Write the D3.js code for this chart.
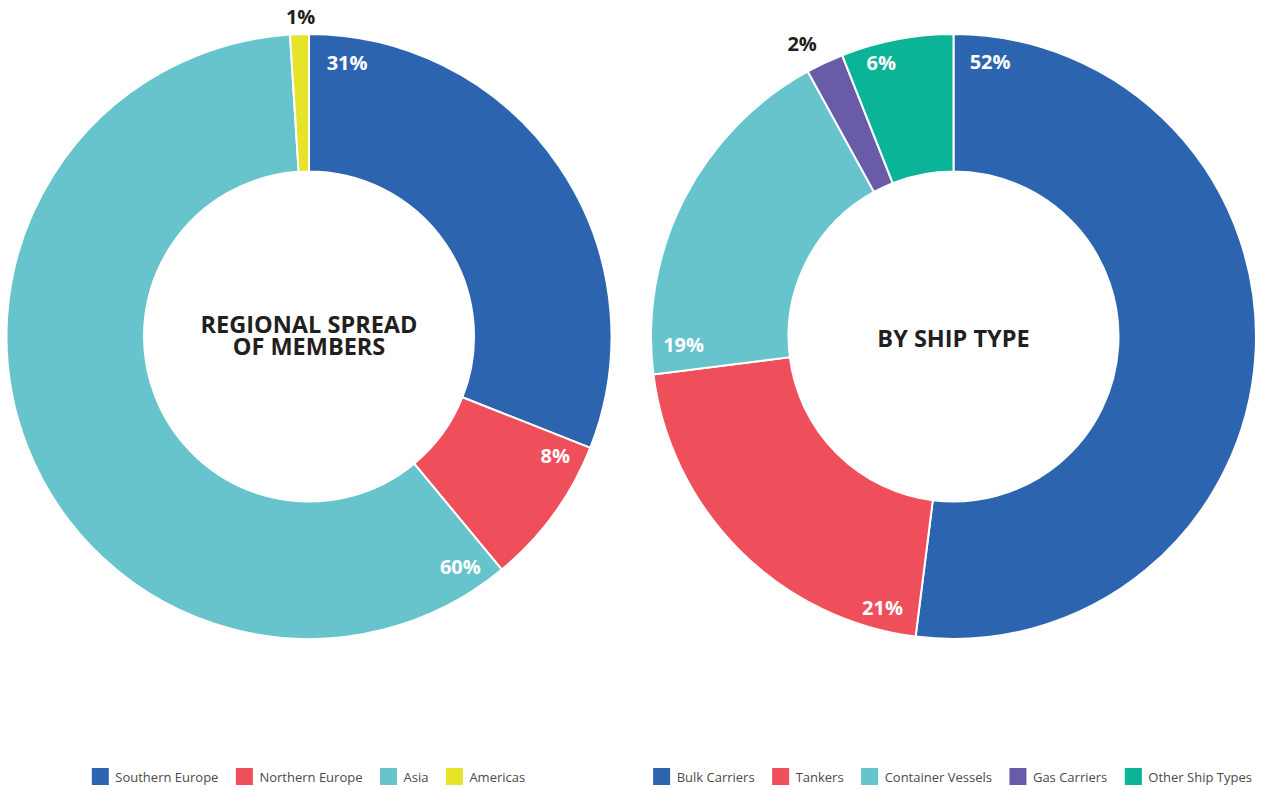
<!DOCTYPE html>
<html>
<head>
<meta charset="utf-8">
<script src="https://cdn.jsdelivr.net/npm/d3@7"></script>
<style>
  html, body { margin: 0; padding: 0; background: #ffffff; }
  svg { display: block; font-family: "Open Sans", "Noto Sans", sans-serif; }
</style>
</head>
<body>
<svg id="chart" width="1269" height="790"></svg>
<script>
// Regional spread of members (percent)
const regionCategories = ["Southern Europe", "Northern Europe", "Asia", "Americas"];
const regionValues = [31, 8, 60, 1];
const regionColors = ["#2c64b0", "#ef4f5a", "#67c4cc", "#e6e42a"];

// Fleet by ship type (percent)
const shipCategories = ["Bulk Carriers", "Tankers", "Container Vessels", "Gas Carriers", "Other Ship Types"];
const shipValues = [52, 21, 19, 2, 6];
const shipColors = ["#2c64b0", "#ef4f5a", "#67c4cc", "#6a5ba8", "#0bb497"];

// Label placement: slices wide enough carry their label inside, near the leading edge;
// thin slices get the label outside, centred on the slice.
const regionLabelLayout = [
  { nudge: 7.9, r: 277 }, { nudge: 4.2, r: 273.5 }, { nudge: 6.3, r: 275.7 }, { outside: true, r: 320, nudge: 0.3 }
];
const shipLabelLayout = [
  { nudge: 7.6, r: 277 }, { nudge: 7.5, r: 280 }, { nudge: 5.6, r: 270 }, { outside: true, r: 330, nudge: -2.1 }, { nudge: 6.8, r: 283 }
];

const svg = d3.select("#chart");
const outerR = 302.5, innerR = 165;
const deg = Math.PI / 180;

function donut(cx, cy, categories, values, colors, layout, titleLines, titleSize, titleBase) {
  const g = svg.append("g").attr("transform", `translate(${cx},${cy})`);
  const pie = d3.pie().sort(null).value(d => d.value);
  const arcs = pie(categories.map((c, i) => ({ name: c, value: values[i], color: colors[i], layout: layout[i] })));
  const arc = d3.arc().innerRadius(innerR).outerRadius(outerR);

  g.selectAll("path.slice")
    .data(arcs)
    .join("path")
    .attr("class", "slice")
    .attr("d", arc)
    .attr("fill", d => d.data.color)
    .attr("stroke", "#ffffff")
    .attr("stroke-width", 2)
    .attr("stroke-linejoin", "miter");

  g.selectAll("text.value")
    .data(arcs)
    .join("text")
    .attr("class", "value")
    .each(function (d) {
      const L = d.data.layout;
      const base = L.outside ? (d.startAngle + d.endAngle) / 2 : d.startAngle;
      const a = base + L.nudge * deg;
      d3.select(this)
        .attr("x", Math.sin(a) * L.r)
        .attr("y", -Math.cos(a) * L.r)
        .attr("fill", L.outside ? "#231f20" : "#ffffff");
    })
    .attr("text-anchor", "middle")
    .attr("dominant-baseline", "central")
    .attr("font-size", 20)
    .attr("font-weight", 700)
    .text(d => d.data.value + "%");

  // centre title, set on alphabetic baselines
  const lineGap = 21.7;
  const t = g.append("text")
    .attr("text-anchor", "middle")
    .attr("font-size", titleSize)
    .attr("font-weight", 700)
    .attr("fill", "#231f20");
  titleLines.forEach((line, i) => {
    t.append("tspan")
      .attr("x", 0)
      .attr("y", (i - (titleLines.length - 1) / 2) * lineGap + titleBase)
      .text(line);
  });
}

function legend(cx, y, categories, colors) {
  const g = svg.append("g");
  const sw = 17, gapText = 6.5, gapItem = 17.5;
  const items = g.selectAll("g.item")
    .data(categories.map((c, i) => ({ name: c, color: colors[i] })))
    .join("g")
    .attr("class", "item");
  items.append("rect")
    .attr("width", sw).attr("height", sw)
    .attr("y", y - sw / 2)
    .attr("fill", d => d.color);
  items.append("text")
    .attr("x", sw + gapText)
    .attr("y", y + 0.5)
    .attr("dominant-baseline", "central")
    .attr("font-size", 13)
    .attr("fill", "#4a4a4a")
    .text(d => d.name);
  // lay items out side by side, then centre the row
  let x = 0;
  const widths = [];
  items.each(function () {
    const w = sw + gapText + d3.select(this).select("text").node().getComputedTextLength();
    widths.push(w);
  });
  items.attr("transform", (d, i) => {
    const tx = x;
    x += widths[i] + gapItem;
    return `translate(${tx},0)`;
  });
  const total = x - gapItem;
  g.attr("transform", `translate(${cx - total / 2},0)`);
}

donut(309, 336.5, regionCategories, regionValues, regionColors, regionLabelLayout,
  ["REGIONAL SPREAD", "OF MEMBERS"], 23.5, 7.7);
donut(953.5, 336.5, shipCategories, shipValues, shipColors, shipLabelLayout,
  ["BY SHIP TYPE"], 23.5, 10);

legend(308.5, 776.5, regionCategories, regionColors);
legend(952.5, 776.5, shipCategories, shipColors);
</script>
</body>
</html>
